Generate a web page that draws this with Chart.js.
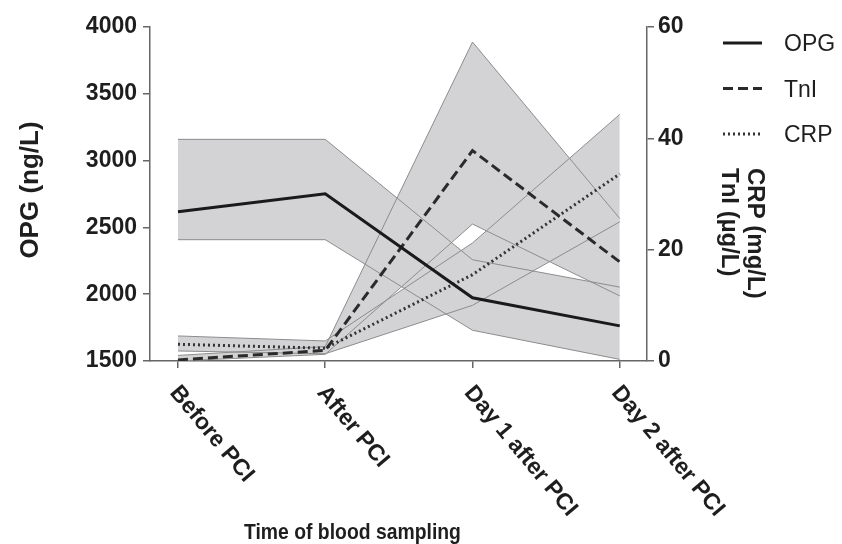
<!DOCTYPE html>
<html>
<head>
<meta charset="utf-8">
<script src="https://cdn.jsdelivr.net/npm/chart.js@4.4.0/dist/chart.umd.min.js"></script>
<style>
  html, body { margin: 0; padding: 0; background: #fff; }
  canvas { display: block; }
</style>
</head>
<body>
<canvas id="chart" width="842" height="544"></canvas>
<script>
const FONT = "'Liberation Sans', Arial, Helvetica, sans-serif";
const INK = '#1e1e1e';
const AXIS = '#666';
const BAND = '#d3d3d5';
const EDGE = '#8c8c8c';

// sampling time points (x axis)
const timePoints = ['Before PCI', 'After PCI', 'Day 1 after PCI', 'Day 2 after PCI'];

// OPG (ng/L), left axis: middle line and shaded range
const opgMid = [2617, 2752, 1973, 1763];
const opgHigh = [3159, 3159, 2258, 2053];
const opgLow = [2408, 2408, 1730, 1512];

// TnI (µg/L), right axis
const tniMid = [0.2, 1.9, 37.8, 17.8];
const tniHigh = [1.0, 2.6, 57.3, 25.6];
const tniLow = [0.0, 1.2, 24.6, 11.7];

// CRP (mg/L), right axis
const crpMid = [3.0, 2.3, 15.5, 33.6];
const crpHigh = [4.5, 3.6, 21.2, 44.3];
const crpLow = [1.8, 1.3, 10.0, 25.0];

// axis ticks
const opgTicks = [1500, 2000, 2500, 3000, 3500, 4000];
const rightTicks = [0, 20, 40, 60];

const xy = arr => arr.map((v, i) => ({ x: i, y: v }));

// shaded range = upper edge filled down to the lower edge
function band(high, low, axis) {
  return [
    { data: xy(high), yAxisID: axis, fill: '+1', backgroundColor: BAND, borderColor: EDGE, borderWidth: 1, order: 2 },
    { data: xy(low), yAxisID: axis, fill: false, borderColor: EDGE, borderWidth: 1, order: 2 }
  ];
}

function midLine(label, arr, axis, dash, color) {
  return { label, data: xy(arr), yAxisID: axis, fill: false, borderColor: color, borderWidth: 3, borderDash: dash, order: 1 };
}

// draws rotated category labels, axis titles and the legend
const figureText = {
  id: 'figureText',
  afterDraw(chart) {
    const { ctx, chartArea } = chart;
    const xScale = chart.scales.x;
    ctx.save();
    ctx.fillStyle = INK;
    ctx.textBaseline = 'alphabetic';

    ctx.font = 'bold 23px ' + FONT;
    ctx.textAlign = 'left';
    timePoints.forEach((name, i) => {
      ctx.save();
      ctx.translate(xScale.getPixelForValue(i) - 9, chartArea.bottom + 32);
      ctx.rotate(50 * Math.PI / 180);
      ctx.fillText(name, 0, 0);
      ctx.restore();
    });

    // x title is a bit narrow in the figure
    ctx.save();
    ctx.font = 'bold 22px ' + FONT;
    ctx.translate(244, 539);
    ctx.scale(0.88, 1);
    ctx.fillText('Time of blood sampling', 0, 0);
    ctx.restore();

    ctx.save();
    ctx.font = 'bold 26px ' + FONT;
    ctx.translate(38, 190);
    ctx.rotate(-Math.PI / 2);
    ctx.textAlign = 'center';
    ctx.fillText('OPG (ng/L)', 0, 0);
    ctx.restore();

    ctx.font = 'bold 24px ' + FONT;
    [['CRP (mg/L)', 748], ['TnI (µg/L)', 722]].forEach(([t, bx]) => {
      ctx.save();
      ctx.translate(bx, 168);
      ctx.rotate(Math.PI / 2);
      ctx.fillText(t, 0, 0);
      ctx.restore();
    });

    // legend
    ctx.font = '23px ' + FONT;
    ctx.textBaseline = 'middle';
    const items = chart.data.datasets.filter(d => d.label);
    items.forEach((d, i) => {
      const y = 43 + i * 45.5;
      ctx.beginPath();
      ctx.setLineDash(d.borderDash || []);
      ctx.lineWidth = d.borderWidth;
      ctx.strokeStyle = d.borderColor;
      ctx.moveTo(723, y);
      ctx.lineTo(762, y);
      ctx.stroke();
      ctx.fillText(d.label, 784, y + 2);
    });
    ctx.restore();
  }
};

const axisTicks = values => scale => { scale.ticks = values.map(v => ({ value: v })); };
const plain = v => String(v);

new Chart(document.getElementById('chart'), {
  type: 'line',
  data: {
    datasets: [
      midLine('OPG', opgMid, 'y', [], '#1a1a1a'),
      midLine('TnI', tniMid, 'y2', [10, 5], '#2a2a2a'),
      midLine('CRP', crpMid, 'y2', [2, 3], '#333'),
      ...band(opgHigh, opgLow, 'y'),
      ...band(tniHigh, tniLow, 'y2'),
      ...band(crpHigh, crpLow, 'y2')
    ]
  },
  options: {
    responsive: false,
    animation: false,
    layout: { padding: { top: 27 } },
    elements: {
      point: { radius: 0, hoverRadius: 0 },
      line: { tension: 0, borderCapStyle: 'butt' }
    },
    plugins: {
      legend: { display: false },
      tooltip: { enabled: false },
      filler: { propagate: false, drawTime: 'beforeDatasetsDraw' }
    },
    scales: {
      x: {
        type: 'linear',
        min: -0.19,
        max: 3.185,
        afterBuildTicks: axisTicks(timePoints.map((_, i) => i)),
        afterFit: s => { s.height = 183; },
        ticks: { display: false },
        grid: { drawOnChartArea: false, tickLength: 7, color: AXIS, lineWidth: 1.5 },
        border: { color: AXIS, width: 1.5 }
      },
      y: {
        position: 'left',
        min: 1500,
        max: 4000,
        afterBuildTicks: axisTicks(opgTicks),
        afterFit: s => { s.width = 150; },
        ticks: { color: INK, padding: 6, callback: plain, font: { family: FONT, size: 23, weight: 'bold' } },
        grid: { drawOnChartArea: false, tickLength: 7, color: AXIS, lineWidth: 1.5 },
        border: { color: AXIS, width: 1.5 }
      },
      y2: {
        position: 'right',
        min: 0,
        max: 60,
        afterBuildTicks: axisTicks(rightTicks),
        afterFit: s => { s.width = 195; },
        ticks: { color: INK, padding: 4, callback: plain, font: { family: FONT, size: 23, weight: 'bold' } },
        grid: { drawOnChartArea: false, tickLength: 7, color: AXIS, lineWidth: 1.5 },
        border: { color: AXIS, width: 1.5 }
      }
    }
  },
  plugins: [figureText]
});
</script>
</body>
</html>
